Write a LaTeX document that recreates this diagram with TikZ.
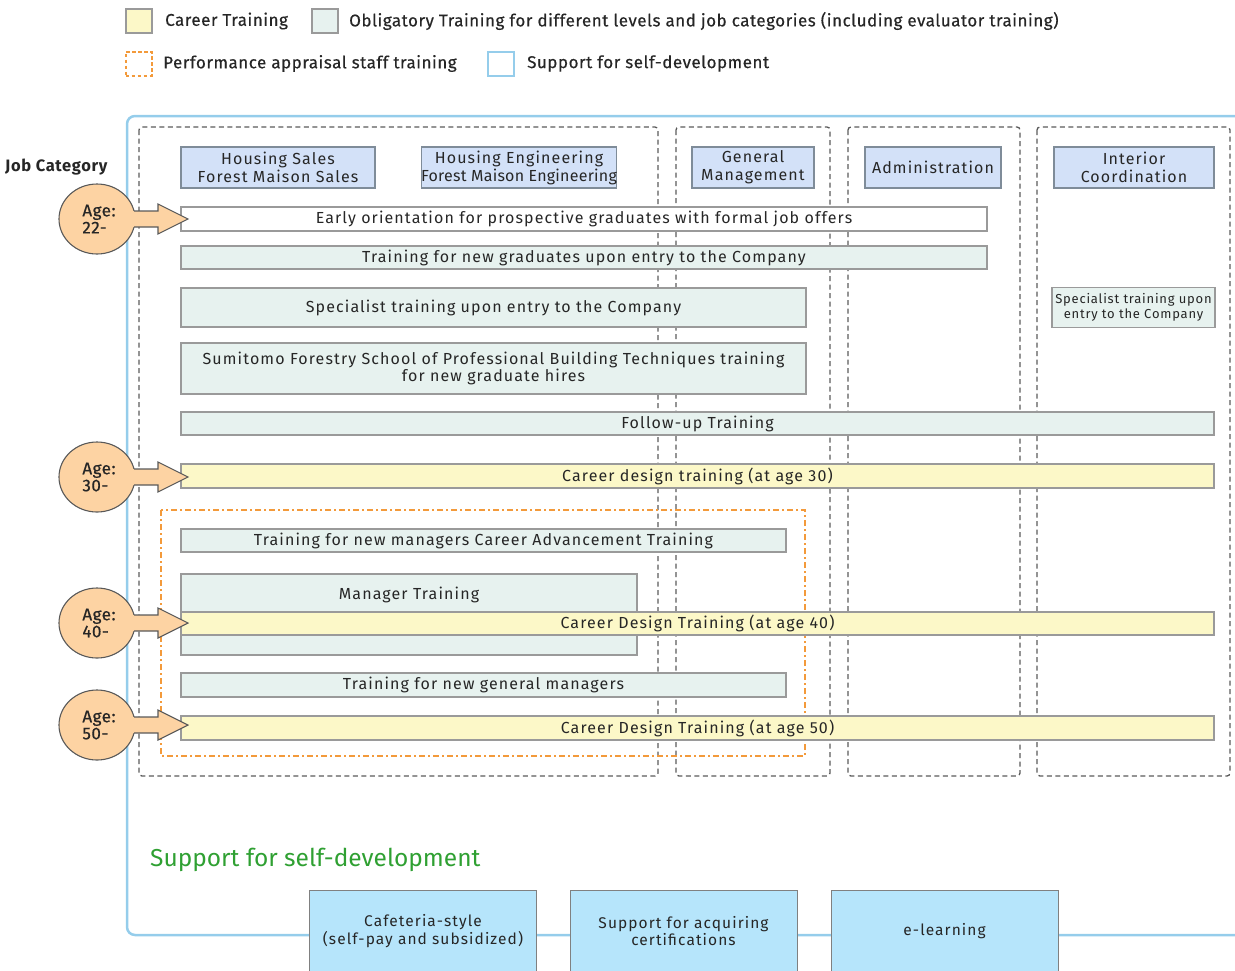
\documentclass[tikz,border=0pt]{standalone}
\usepackage{fontspec}
\setmainfont{Fira Sans}
\newfontfamily\barfont[LetterSpace=7]{Fira Sans}
\newfontfamily\narrowbarfont[LetterSpace=1.5]{Fira Sans}
\newfontfamily\smallbarfont[LetterSpace=6]{Fira Sans}
\newfontfamily\legfont[LetterSpace=3,FakeBold=0.4]{Fira Sans}
\newfontfamily\agefont[LetterSpace=3,FakeBold=0.5]{Fira Sans}
\newfontfamily\jcfont[LetterSpace=4]{Fira Sans}
\usetikzlibrary{shapes.geometric}
\definecolor{cyel}{HTML}{FCF8C8}
\definecolor{cobl}{HTML}{E7F2EF}
\definecolor{chead}{HTML}{D3E1F8}
\definecolor{cpeach}{HTML}{FDD3A3}
\definecolor{corange}{HTML}{F39A3B}
\definecolor{cblue}{HTML}{95CDEB}
\definecolor{ccyan}{HTML}{B6E5FB}
\definecolor{cgreen}{HTML}{2FA032}
\definecolor{cborder}{HTML}{9A9A9A}
\definecolor{chborder}{HTML}{7F8C99}
\definecolor{cdash}{HTML}{5A5A5A}
\tikzset{
  bar/.style={draw=cborder, line width=1.3pt, inner sep=0pt, text=black!85,
    font=\barfont\fontsize{16}{17.5}\selectfont, align=center},
  head/.style={draw=chborder, fill=chead, line width=1.2pt, inner sep=0pt,
    minimum height=41, text=black!85, font=\barfont\fontsize{16}{18}\selectfont, align=center},
  colbox/.style={draw=cdash, line width=1.3pt, dash pattern=on 5pt off 3.5pt, rounded corners=3},
  legsq/.style={line width=1.3pt, minimum width=26, minimum height=24, inner sep=0pt},
  legtxt/.style={anchor=west, inner sep=0pt, text=black!85, font=\legfont\fontsize{17}{19}\selectfont},
  agecirc/.style={ellipse, draw=black!65, fill=cpeach, line width=1.1pt,
    minimum width=76, minimum height=70, inner sep=0pt},
  agetxt/.style={align=left, inner sep=0pt, text=black!85, font=\agefont\fontsize{17}{17}\selectfont},
  sbox/.style={draw=black!50, fill=ccyan, line width=1pt, inner sep=0pt,
    minimum width=227, minimum height=82, align=center, text=black!85,
    font=\barfont\fontsize{15.5}{17.5}\selectfont}
}
\begin{document}
\begin{tikzpicture}[x=1pt,y=-1pt]
\useasboundingbox (0,0) rectangle (1235,970);
% legend
\node[legsq, draw=cborder, fill=cyel] (lg1) at (139,21) {};
\node[legtxt] (lt1) at (165,21) {Career Training};
\node[legsq, draw=cborder, fill=cobl] (lg2) at (325,21) {};
\node[legtxt] (lt2) at (349,21) {Obligatory Training for different levels and job categories (including evaluator training)};
\node[legsq, draw=corange, line width=2pt, dash pattern=on 3.5pt off 2.5pt] (lg3) at (138.5,63.5) {};
\node[legtxt] (lt3) at (163,63.5) {Performance appraisal staff training};
\node[legsq, draw=cblue, line width=2pt, fill=white] (lg4) at (501,63.5) {};
\node[legtxt] (lt4) at (527,63.5) {Support for self-development};
% big support frame
\draw[cblue, line width=2.5pt, rounded corners=8] (1250,116) -- (127,116) -- (127,935) -- (1250,935);
\node[anchor=west, inner sep=0pt, text=black!85, font=\jcfont\bfseries\fontsize{16.5}{18}\selectfont] (jc) at (5,167) {Job Category};
% columns
\draw[colbox] (139,127) rectangle (658,776);
\draw[colbox] (676,127) rectangle (830,776);
\draw[colbox] (848,127) rectangle (1020,776);
\draw[colbox] (1037,127) rectangle (1230,776);
% headers
\node[head, minimum width=194] (hs) at (278,167.5) {Housing Sales\\Forest Maison Sales};
\node[head, minimum width=194] (he) at (519,167.5) {Housing Engineering\\{\narrowbarfont Forest Maison Engineering}};
\node[head, minimum width=122] (gm) at (753,167.5) {General\\Management};
\node[head, minimum width=136] (ad) at (933,167.5) {Administration};
\node[head, minimum width=160] (ic) at (1134,167.5) {Interior\\Coordination};
% orange appraisal frame
\draw[corange, line width=2.3pt, dash pattern=on 6pt off 3pt on 2pt off 3pt] (161,510) rectangle (805,756);
% bars
\node[bar, fill=white, minimum width=806, minimum height=24] (eo) at (584,219) {Early orientation for prospective graduates with formal job offers};
\node[bar, fill=cobl, minimum width=806, minimum height=23] (ng) at (584,257.5) {Training for new graduates upon entry to the Company};
\node[bar, fill=cobl, minimum width=625, minimum height=39] (sp) at (493.5,307.5) {Specialist training upon entry to the Company};
\node[bar, fill=cobl, minimum width=625, minimum height=51] (sch) at (493.5,368.5) {Sumitomo Forestry School of Professional Building Techniques training\\for new graduate hires};
\node[bar, fill=cobl, minimum width=163, minimum height=40, font=\smallbarfont\fontsize{13}{15}\selectfont] (sp2) at (1133.5,307.5) {Specialist training upon\\entry to the Company};
\node[bar, fill=cobl, minimum width=1033, minimum height=23] (fu) at (697.5,423.5) {Follow-up Training};
\node[bar, fill=cyel, minimum width=1033, minimum height=24] (c30) at (697.5,476) {Career design training (at age 30)};
\node[bar, fill=cobl, minimum width=605, minimum height=23] (nm) at (483.5,540.5) {Training for new managers Career Advancement Training};
\node[bar, fill=cobl, minimum width=456, minimum height=81] (mt) at (409,614.5) {};
\node[bar, draw=none, fill=none, anchor=center] (mtt) at (409,595) {Manager Training};
\node[bar, fill=cyel, minimum width=1033, minimum height=23] (c40) at (697.5,623.5) {Career Design Training (at age 40)};
\node[bar, fill=cobl, minimum width=605, minimum height=24] (ngm) at (483.5,685) {Training for new general managers};
\node[bar, fill=cyel, minimum width=1033, minimum height=24] (c50) at (697.5,728) {Career Design Training (at age 50)};
% age markers
\foreach \yy/\age/\nm in {219/22/a, 477/30/b, 623/40/c, 725/50/d}{
  \node[agecirc] (circ\nm) at (97,\yy) {};
  \fill[cpeach] (126,\yy-8) -- (158,\yy-8) -- (158,\yy-15) -- (188,\yy) -- (158,\yy+15) -- (158,\yy+8) -- (126,\yy+8) -- cycle;
  \draw[black!65, line width=1.1pt, line join=miter] (134,\yy-8) -- (158,\yy-8) -- (158,\yy-15) -- (188,\yy) -- (158,\yy+15) -- (158,\yy+8) -- (134,\yy+8);
  \node[agetxt] (agt\nm) at (99,\yy) {Age:\\\age-};
}
% self-development
\node[anchor=west, inner sep=0pt, text=cgreen, font=\fontsize{24.5}{27}\selectfont] (sd) at (150,860) {Support for self-development};
\node[sbox] (caf) at (423,931) {Cafeteria-style\\(self-pay and subsidized)};
\node[sbox] (cert) at (683.5,931) {Support for acquiring\\certifications};
\node[sbox] (el) at (944.5,931) {e-learning};
\end{tikzpicture}
\end{document}
